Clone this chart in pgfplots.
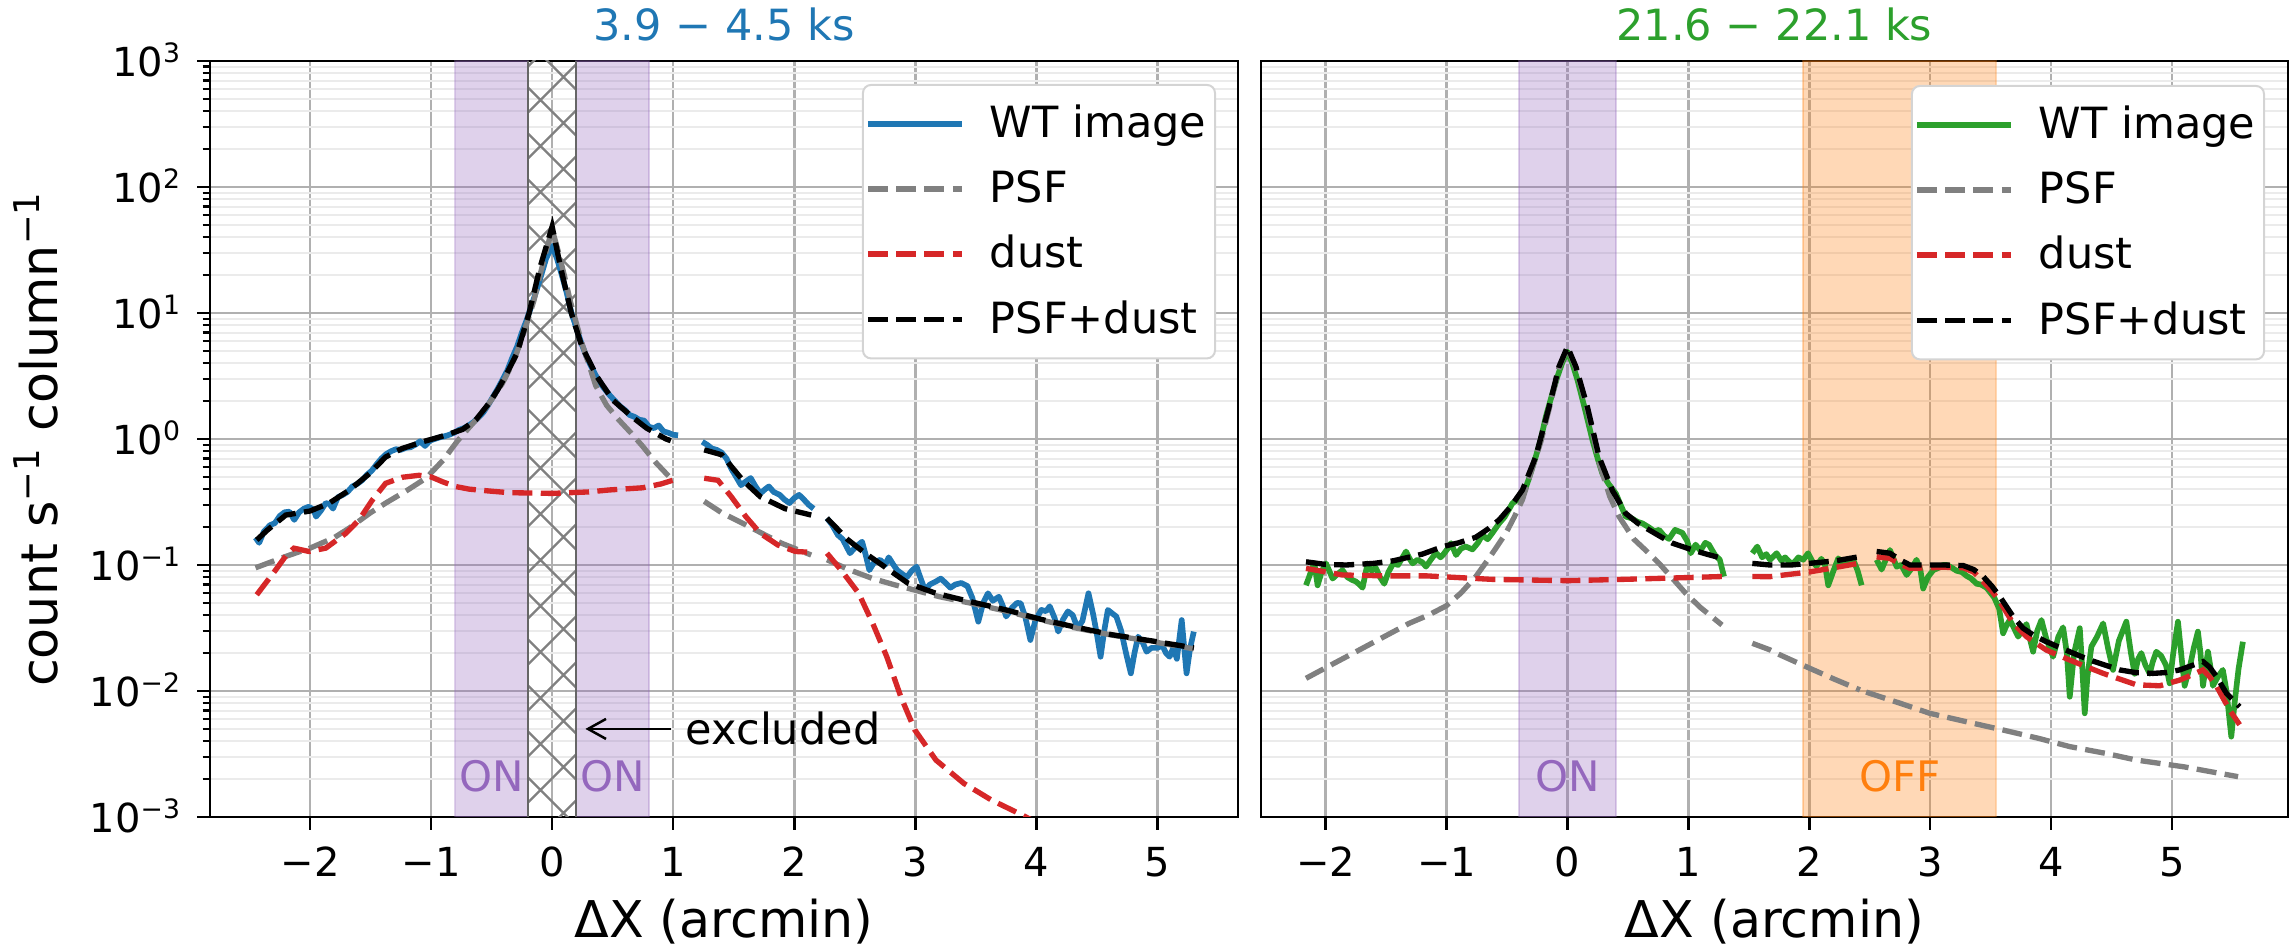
\documentclass[border=0pt]{standalone}
\usepackage{fontspec}
\setmainfont{DejaVu Sans}
\usepackage{pgfplots}
\pgfplotsset{compat=1.18}
\usetikzlibrary{patterns,arrows.meta}

\definecolor{tabblue}{HTML}{1F77B4}
\definecolor{tabgreen}{HTML}{2CA02C}
\definecolor{tabred}{HTML}{D62728}
\definecolor{tabpurple}{HTML}{9467BD}
\definecolor{taborange}{HTML}{FF7F0E}
\definecolor{psfgray}{HTML}{808080}
\definecolor{majgrid}{HTML}{B0B0B0}
\definecolor{mingrid}{HTML}{EBEBEB}
\definecolor{legedge}{HTML}{D4D4D4}

% wide diagonal cross-hatch for the excluded core
\pgfdeclarepatternformonly{widecross}{\pgfqpoint{-1pt}{-1pt}}{\pgfqpoint{14.8pt}{14.8pt}}{\pgfqpoint{13.8pt}{13.8pt}}{%
  \pgfsetlinewidth{0.7pt}%
  \pgfpathmoveto{\pgfqpoint{3.45pt}{0pt}}\pgfpathlineto{\pgfqpoint{13.8pt}{10.35pt}}%
  \pgfpathmoveto{\pgfqpoint{0pt}{10.35pt}}\pgfpathlineto{\pgfqpoint{3.45pt}{13.8pt}}%
  \pgfpathmoveto{\pgfqpoint{0pt}{3.45pt}}\pgfpathlineto{\pgfqpoint{3.45pt}{0pt}}%
  \pgfpathmoveto{\pgfqpoint{3.45pt}{13.8pt}}\pgfpathlineto{\pgfqpoint{13.8pt}{3.45pt}}%
  \pgfusepath{stroke}}

\pgfplotsset{legend image code/.code={\draw[#1] (0pt,0pt) -- (28.4pt,0pt);}}

\begin{document}
\begin{tikzpicture}
\useasboundingbox (0,0) rectangle (687pt,285.3pt);

% ---------------- early interval ----------------
\begin{axis}[
  at={(63pt,40.2pt)}, anchor=south west,
  scale only axis, width=308.4pt, height=226.8pt,
  xmin=-2.826, xmax=5.665,
  ymode=log, ymin=1e-3, ymax=1e3,
  unbounded coords=jump,
  xtick={-2,-1,0,1,2,3,4,5},
  xticklabels={−2,−1,0,1,2,3,4,5},
  ytick={1e-3,1e-2,1e-1,1,1e1,1e2,1e3},
  yticklabels={10\textsuperscript{−3},10\textsuperscript{−2},10\textsuperscript{−1},10\textsuperscript{0},10\textsuperscript{1},10\textsuperscript{2},10\textsuperscript{3}},
  minor ytick={2e-3,3e-3,4e-3,5e-3,6e-3,7e-3,8e-3,9e-3,
               2e-2,3e-2,4e-2,5e-2,6e-2,7e-2,8e-2,9e-2,
               0.2,0.3,0.4,0.5,0.6,0.7,0.8,0.9,
               2,3,4,5,6,7,8,9,
               20,30,40,50,60,70,80,90,
               200,300,400,500,600,700,800,900},
  xmajorgrids=true, ymajorgrids=true, yminorgrids=true,
  major grid style={draw=majgrid, line width=0.75pt},
  minor grid style={draw=mingrid, line width=0.6pt},
  axis line style={line width=0.8pt},
  tick align=outside,
  xtick pos=bottom, ytick pos=left,
  major tick length=3.8pt, minor tick length=2.2pt,
  tick style={black, line width=0.75pt},
  tick label style={font=\fontsize{12}{14}\selectfont},
  xticklabel style={anchor=base, inner sep=0pt, yshift=-14pt},
  yticklabel style={anchor=base east, inner sep=0pt, xshift=-4.5pt, yshift=-4.7pt},
  xlabel={ΔX (arcmin)},
  xlabel style={at={(axis description cs:0.5,-0.16)}, anchor=base, font=\fontsize{15.2}{18}\selectfont},
  ylabel={count s\textsuperscript{−1} column\textsuperscript{−1}},
  ylabel style={at={(axis description cs:-0.1488,0.5)}, anchor=base, font=\fontsize{15.2}{18}\selectfont},
  title={3.9 − 4.5 ks},
  title style={at={(0.5,1)}, anchor=base, yshift=0.2pt, text=tabblue, font=\fontsize{12.9}{15}\selectfont},
  legend cell align=left,
  legend style={at={(0.9786,0.9696)}, anchor=north east,
    draw=legedge, line width=0.6pt, rounded corners=2.4pt, fill=white,
    font=\fontsize{12.9}{15}\selectfont,
    inner xsep=0.6pt, inner ysep=4pt, row sep=4.35pt, column sep=5.4pt},
]
% source regions
\addplot[forget plot, fill=tabpurple, fill opacity=0.3, draw=tabpurple, draw opacity=0.3, line width=0.6pt]
  coordinates {(-0.8,1e-3) (-0.8,1e3) (-0.2,1e3) (-0.2,1e-3) (-0.8,1e-3)};
\addplot[forget plot, fill=tabpurple, fill opacity=0.3, draw=tabpurple, draw opacity=0.3, line width=0.6pt]
  coordinates {(0.2,1e-3) (0.2,1e3) (0.8,1e3) (0.8,1e-3) (0.2,1e-3)};
% excluded core
\addplot[forget plot, draw=none, pattern=widecross, pattern color=psfgray]
  coordinates {(-0.2,1e-3) (-0.2,1e3) (0.2,1e3) (0.2,1e-3) (-0.2,1e-3)};
\addplot[forget plot, draw=black!60, line width=0.6pt] coordinates {(-0.2,1e-3) (-0.2,1e3)};
\addplot[forget plot, draw=black!60, line width=0.6pt] coordinates {(0.2,1e-3) (0.2,1e3)};

% WT image profile
\addplot[tabblue, line width=1.7pt, line join=round] coordinates {
(-2.45,0.165) (-2.42,0.150) (-2.38,0.185) (-2.33,0.207) (-2.29,0.215) (-2.25,0.245)
(-2.21,0.262) (-2.17,0.265) (-2.13,0.228) (-2.09,0.262) (-2.05,0.280) (-2.01,0.29)
(-1.97,0.275) (-1.95,0.242) (-1.91,0.27) (-1.87,0.31) (-1.84,0.305) (-1.81,0.28)
(-1.77,0.345) (-1.73,0.36) (-1.69,0.38) (-1.65,0.42) (-1.61,0.44) (-1.57,0.47)
(-1.53,0.52) (-1.49,0.56) (-1.45,0.63) (-1.41,0.70) (-1.37,0.76) (-1.33,0.80)
(-1.29,0.83) (-1.25,0.82) (-1.21,0.85) (-1.17,0.86) (-1.13,0.90) (-1.09,0.96)
(-1.05,0.88) (-1.01,0.97) (-0.97,1.0) (-0.93,1.03) (-0.89,1.05) (-0.85,1.08)
(-0.81,1.12) (-0.77,1.18) (-0.73,1.22) (-0.69,1.28) (-0.65,1.36) (-0.61,1.48)
(-0.57,1.62) (-0.53,1.85) (-0.49,2.15) (-0.45,2.5) (-0.41,2.95) (-0.37,3.5)
(-0.33,4.4) (-0.29,5.4) (-0.25,7.0) (-0.21,8.8) (-0.17,11.5) (-0.13,15)
(-0.09,20) (-0.05,27) (0,34) (0.04,27) (0.08,20) (0.12,14.5) (0.16,10)
(0.20,7.6) (0.24,5.8) (0.28,4.6) (0.32,3.8) (0.36,3.2) (0.40,2.75) (0.44,2.45)
(0.48,2.2) (0.52,2.0) (0.56,1.82) (0.60,1.7) (0.64,1.55) (0.68,1.5) (0.72,1.42)
(0.76,1.4) (0.80,1.25) (0.84,1.22) (0.88,1.28) (0.92,1.15) (0.96,1.12) (1.00,1.08) (1.04,1.07)
(1.14,nan)
(1.24,0.95) (1.28,0.90) (1.32,0.84) (1.36,0.82) (1.40,0.78) (1.44,0.70) (1.48,0.58)
(1.52,0.50) (1.56,0.43) (1.60,0.46) (1.64,0.49) (1.68,0.42) (1.72,0.37) (1.76,0.40)
(1.79,0.42) (1.83,0.38) (1.88,0.36) (1.92,0.33) (1.96,0.31) (2.00,0.34) (2.04,0.36)
(2.08,0.33) (2.12,0.30) (2.16,0.28)
(2.21,nan)
(2.27,0.235) (2.31,0.21) (2.36,0.173) (2.40,0.16) (2.46,0.124) (2.51,0.14) (2.56,0.153)
(2.59,0.12) (2.62,0.091) (2.66,0.105) (2.71,0.11) (2.75,0.10) (2.78,0.115) (2.82,0.10)
(2.85,0.091) (2.89,0.085) (2.93,0.080) (2.97,0.09) (3.01,0.097) (3.04,0.08) (3.08,0.063)
(3.12,0.07) (3.17,0.074) (3.21,0.078) (3.25,0.072) (3.29,0.066) (3.33,0.070) (3.38,0.072)
(3.43,0.068) (3.47,0.055) (3.52,0.0355) (3.56,0.05) (3.60,0.0596) (3.64,0.052) (3.69,0.056)
(3.72,0.048) (3.75,0.039) (3.80,0.046) (3.84,0.050) (3.87,0.0497) (3.91,0.038) (3.95,0.0254)
(3.99,0.036) (4.04,0.044) (4.08,0.043) (4.11,0.047) (4.15,0.038) (4.18,0.0296) (4.22,0.037)
(4.26,0.0428) (4.30,0.040) (4.34,0.0315) (4.38,0.036) (4.43,0.0596) (4.47,0.040) (4.50,0.028)
(4.53,0.0187) (4.56,0.030) (4.59,0.044) (4.63,0.041) (4.66,0.039) (4.70,0.030) (4.74,0.020)
(4.78,0.0138) (4.81,0.020) (4.84,0.027) (4.88,0.024) (4.91,0.0205) (4.95,0.022) (5.00,0.022)
(5.04,0.023) (5.07,0.020) (5.10,0.0187) (5.13,0.022) (5.16,0.018) (5.20,0.0366) (5.24,0.0138)
(5.27,0.022) (5.30,0.0296)
};
\addlegendentry{WT image}

% PSF model
\addplot[psfgray, line width=1.6pt, dash pattern=on 6pt off 2.5pt] coordinates {
(-2.45,0.095) (-2.2,0.117) (-2.0,0.136) (-1.8,0.165) (-1.68,0.195) (-1.5,0.26)
(-1.375,0.31) (-1.2,0.39) (-1.04,0.49) (-0.9,0.68) (-0.78,0.97) (-0.68,1.25)
(-0.58,1.6) (-0.5,2.05) (-0.41,2.77) (-0.35,3.6) (-0.3,4.6) (-0.25,6.3) (-0.2,8.8)
(-0.15,12.6) (-0.1,20) (-0.05,31) (0,46) (0.05,31) (0.1,20) (0.15,12.4) (0.2,8.3)
(0.25,5.6) (0.3,4.0) (0.36,2.65) (0.45,1.85) (0.55,1.42) (0.65,1.12) (0.75,0.87)
(0.85,0.66) (0.995,0.47)
(1.14,nan)
(1.256,0.32) (1.4,0.26) (1.575,0.214) (1.75,0.175) (1.894,0.149) (2.14,0.12)
(2.21,nan)
(2.27,0.11) (2.45,0.092) (2.648,0.078) (2.82,0.07) (3.0,0.063) (3.2,0.056) (3.46,0.0497)
(3.75,0.043) (4.04,0.0366) (4.3,0.032) (4.62,0.0278) (4.95,0.0247) (5.3,0.0216)
};
\addlegendentry{PSF}

% dust scattering halo
\addplot[tabred, line width=1.6pt, dash pattern=on 6pt off 2.5pt] coordinates {
(-2.44,0.058) (-2.285,0.091) (-2.2,0.118) (-2.133,0.136) (-2.008,0.128) (-1.87,0.136)
(-1.705,0.178) (-1.595,0.228) (-1.485,0.328) (-1.375,0.445) (-1.237,0.497) (-1.1,0.515)
(-1.0,0.50) (-0.906,0.458) (-0.8,0.42) (-0.686,0.40) (-0.5,0.385) (-0.355,0.375) (0,0.37)
(0.3,0.38) (0.471,0.394) (0.747,0.41) (0.9,0.44) (0.995,0.47)
(1.14,nan)
(1.256,0.488) (1.37,0.47) (1.48,0.348) (1.60,0.242) (1.72,0.178) (1.865,0.144) (2.01,0.128) (2.14,0.126)
(2.21,nan)
(2.27,0.124) (2.387,0.091) (2.532,0.0596) (2.648,0.0344) (2.764,0.0187) (2.88,0.009)
(2.996,0.0049) (3.17,0.00283) (3.40,0.00185) (3.63,0.00136) (3.88,0.00104) (4.1,0.0008)
(4.5,0.0005) (5.0,0.0003) (5.3,0.00022)
};
\addlegendentry{dust}

% total model
\addplot[black, line width=1.6pt, dash pattern=on 6pt off 2.5pt] coordinates {
(-2.44,0.158) (-2.35,0.19) (-2.2,0.249) (-2.0,0.268) (-1.84,0.31) (-1.68,0.39) (-1.51,0.53)
(-1.375,0.72) (-1.24,0.84) (-1.07,0.95) (-0.91,1.05) (-0.74,1.19) (-0.63,1.42) (-0.52,1.93)
(-0.45,2.45) (-0.39,3.1) (-0.29,4.8) (-0.19,10) (-0.1,23) (0,48.5) (0.07,23) (0.158,10)
(0.246,5.4) (0.373,3.1) (0.5,2.04) (0.66,1.5) (0.78,1.22) (0.94,1.0) (0.98,0.97)
(1.14,nan)
(1.256,0.82) (1.40,0.75) (1.575,0.47) (1.72,0.348) (1.923,0.28) (2.14,0.249)
(2.21,nan)
(2.27,0.235) (2.445,0.158) (2.58,0.125) (2.706,0.103) (2.94,0.0716) (3.17,0.0596) (3.46,0.051)
(3.75,0.044) (4.04,0.037) (4.3,0.0325) (4.62,0.028) (4.95,0.025) (5.3,0.022)
};
\addlegendentry{PSF+dust}

\node[anchor=base, text=tabpurple, font=\fontsize{12.6}{14}\selectfont] at (axis cs:-0.5,1.6e-3) {ON};
\node[anchor=base, text=tabpurple, font=\fontsize{12.6}{14}\selectfont] at (axis cs:0.5,1.6e-3) {ON};
\draw[line width=0.75pt, -{Straight Barb[length=5.4pt,width=6pt]}] (axis cs:0.98,5e-3) -- (axis cs:0.275,5e-3);
\node[anchor=west, inner sep=0pt, font=\fontsize{12.9}{15}\selectfont] at (axis cs:1.1,5e-3) {excluded};
\end{axis}

% ---------------- late interval ----------------
\begin{axis}[
  at={(378.3pt,40.2pt)}, anchor=south west,
  scale only axis, width=308.1pt, height=226.8pt,
  xmin=-2.534, xmax=5.959,
  ymode=log, ymin=1e-3, ymax=1e3,
  unbounded coords=jump,
  xtick={-2,-1,0,1,2,3,4,5},
  xticklabels={−2,−1,0,1,2,3,4,5},
  ytick={1e-3,1e-2,1e-1,1,1e1,1e2,1e3},
  yticklabels={},
  minor ytick={2e-3,3e-3,4e-3,5e-3,6e-3,7e-3,8e-3,9e-3,
               2e-2,3e-2,4e-2,5e-2,6e-2,7e-2,8e-2,9e-2,
               0.2,0.3,0.4,0.5,0.6,0.7,0.8,0.9,
               2,3,4,5,6,7,8,9,
               20,30,40,50,60,70,80,90,
               200,300,400,500,600,700,800,900},
  xmajorgrids=true, ymajorgrids=true, yminorgrids=true,
  major grid style={draw=majgrid, line width=0.75pt},
  minor grid style={draw=mingrid, line width=0.6pt},
  axis line style={line width=0.8pt},
  tick align=outside,
  xtick pos=bottom, ytick pos=left,
  major tick length=3.8pt, minor tick length=0pt,
  tick style={black, line width=0.75pt},
  ytick style={draw=none},
  tick label style={font=\fontsize{12}{14}\selectfont},
  xticklabel style={anchor=base, inner sep=0pt, yshift=-14pt},
  xlabel={ΔX (arcmin)},
  xlabel style={at={(axis description cs:0.5,-0.16)}, anchor=base, font=\fontsize{15.2}{18}\selectfont},
  title={21.6 − 22.1 ks},
  title style={at={(0.5,1)}, anchor=base, yshift=0.2pt, text=tabgreen, font=\fontsize{12.9}{15}\selectfont},
  legend cell align=left,
  legend style={at={(0.9776,0.9683)}, anchor=north east,
    draw=legedge, line width=0.6pt, rounded corners=2.4pt, fill=white,
    font=\fontsize{12.9}{15}\selectfont,
    inner xsep=0.6pt, inner ysep=4pt, row sep=4.35pt, column sep=5.4pt},
]
\addplot[forget plot, fill=tabpurple, fill opacity=0.3, draw=tabpurple, draw opacity=0.3, line width=0.6pt]
  coordinates {(-0.4,1e-3) (-0.4,1e3) (0.4,1e3) (0.4,1e-3) (-0.4,1e-3)};
\addplot[forget plot, fill=taborange, fill opacity=0.3, draw=taborange, draw opacity=0.3, line width=0.6pt]
  coordinates {(1.95,1e-3) (1.95,1e3) (3.54,1e3) (3.54,1e-3) (1.95,1e-3)};

\addplot[tabgreen, line width=1.7pt, line join=round] coordinates {
(-2.162,0.069) (-2.135,0.081) (-2.11,0.095) (-2.093,0.103) (-2.066,0.069) (-2.03,0.09)
(-1.997,0.103) (-1.97,0.09) (-1.942,0.078) (-1.90,0.085) (-1.86,0.091) (-1.82,0.08)
(-1.78,0.076) (-1.75,0.074) (-1.72,0.07) (-1.694,0.066) (-1.653,0.103) (-1.62,0.09)
(-1.585,0.095) (-1.55,0.08) (-1.515,0.071) (-1.48,0.088) (-1.44,0.103) (-1.40,0.10)
(-1.335,0.128) (-1.30,0.11) (-1.28,0.103) (-1.24,0.11) (-1.2,0.105) (-1.17,0.097)
(-1.13,0.11) (-1.087,0.125) (-1.05,0.115) (-1.03,0.12) (-0.99,0.135) (-0.963,0.149)
(-0.921,0.12) (-0.88,0.135) (-0.84,0.14) (-0.785,0.133) (-0.74,0.15) (-0.703,0.173)
(-0.66,0.16) (-0.62,0.18) (-0.565,0.214) (-0.52,0.24) (-0.48,0.28) (-0.455,0.309)
(-0.41,0.33) (-0.372,0.348) (-0.32,0.48) (-0.262,0.724) (-0.22,1.0) (-0.179,1.50)
(-0.13,2.2) (-0.083,3.12) (-0.04,4.1) (0,4.93) (0.04,4.0) (0.083,2.94) (0.14,1.8)
(0.207,0.98) (0.25,0.7) (0.289,0.53) (0.34,0.44) (0.4,0.37) (0.44,0.3) (0.482,0.242)
(0.53,0.235) (0.58,0.22) (0.62,0.214) (0.67,0.2) (0.72,0.185) (0.758,0.19) (0.80,0.17)
(0.84,0.161) (0.89,0.19) (0.95,0.18) (0.99,0.155) (1.02,0.124) (1.06,0.145) (1.10,0.13)
(1.14,0.15) (1.17,0.145) (1.22,0.12) (1.26,0.11) (1.295,0.081)
(1.41,nan)
(1.529,0.124) (1.57,0.14) (1.61,0.115) (1.645,0.122) (1.675,0.11) (1.73,0.124) (1.77,0.108)
(1.80,0.115) (1.84,0.105) (1.868,0.103) (1.91,0.115) (1.95,0.11) (1.99,0.124) (2.03,0.105)
(2.06,0.098) (2.10,0.112) (2.13,0.1) (2.157,0.069) (2.2,0.09) (2.24,0.113) (2.28,0.1)
(2.32,0.108) (2.364,0.11) (2.40,0.09) (2.433,0.069)
(2.49,nan)
(2.557,0.11) (2.598,0.092) (2.667,0.1315) (2.70,0.11) (2.722,0.097) (2.76,0.1) (2.805,0.0833)
(2.85,0.095) (2.887,0.11) (2.92,0.09) (2.942,0.065) (2.98,0.08) (3.025,0.091) (3.07,0.095)
(3.107,0.1) (3.135,0.1) (3.18,0.095) (3.218,0.09) (3.26,0.088) (3.30,0.082) (3.34,0.078)
(3.383,0.071) (3.42,0.07) (3.466,0.066) (3.50,0.06) (3.53,0.055) (3.57,0.045) (3.603,0.0287)
(3.63,0.033) (3.658,0.0366) (3.69,0.032) (3.727,0.027) (3.76,0.03) (3.796,0.034) (3.82,0.027)
(3.851,0.0205) (3.885,0.03) (3.92,0.0366) (3.96,0.026) (4.016,0.0187) (4.06,0.027) (4.099,0.032)
(4.13,0.02) (4.154,0.009) (4.19,0.02) (4.237,0.0315) (4.258,0.015) (4.278,0.00665) (4.30,0.013)
(4.333,0.0225) (4.38,0.027) (4.43,0.0344) (4.47,0.022) (4.512,0.0147) (4.56,0.025) (4.622,0.0355)
(4.66,0.02) (4.691,0.0137) (4.72,0.018) (4.746,0.020) (4.78,0.016) (4.815,0.0137) (4.84,0.017)
(4.87,0.0205) (4.91,0.019) (4.95,0.016) (4.98,0.0115) (5.01,0.02) (5.049,0.0355) (5.08,0.018)
(5.104,0.011) (5.15,0.016) (5.18,0.022) (5.214,0.0296) (5.235,0.02) (5.256,0.011) (5.28,0.016)
(5.297,0.0205) (5.32,0.015) (5.338,0.011) (5.38,0.013) (5.42,0.0147) (5.45,0.01) (5.49,0.00434)
(5.517,0.008) (5.55,0.015) (5.586,0.0246)
};
\addlegendentry{WT image}

\addplot[psfgray, line width=1.6pt, dash pattern=on 6pt off 2.5pt] coordinates {
(-2.162,0.0126) (-1.95,0.0162) (-1.72,0.0212) (-1.5,0.0275) (-1.31,0.0344) (-1.15,0.04)
(-1.004,0.0473) (-0.88,0.06) (-0.758,0.0808) (-0.63,0.12) (-0.51,0.178) (-0.44,0.24)
(-0.372,0.33) (-0.3,0.55) (-0.22,0.95) (-0.152,1.72) (-0.07,3.65) (0,5.3) (0.07,3.65)
(0.165,1.7) (0.262,0.65) (0.35,0.35) (0.427,0.242) (0.55,0.16) (0.65,0.13) (0.758,0.103)
(0.87,0.078) (0.978,0.0596) (1.1,0.046) (1.278,0.0334)
(1.41,nan)
(1.529,0.0239) (1.675,0.0212) (1.75,0.0195) (2.0,0.0152) (2.2,0.0125) (2.419,0.0102)
(2.45,nan)
(2.47,0.0098) (2.75,0.0080) (2.997,0.00665) (3.3,0.0057) (3.603,0.0049) (3.9,0.0042)
(4.154,0.00362) (4.45,0.0032) (4.705,0.00283) (5.1,0.0025) (5.546,0.00209)
};
\addlegendentry{PSF}

\addplot[tabred, line width=1.6pt, dash pattern=on 6pt off 2.5pt] coordinates {
(-2.162,0.094) (-1.86,0.0833) (-1.5,0.082) (-1.17,0.082) (-0.62,0.0769) (0,0.0751)
(0.48,0.077) (0.9,0.079) (1.278,0.081)
(1.41,nan)
(1.529,0.081) (1.675,0.0808) (2.0,0.088) (2.2,0.095) (2.405,0.103)
(2.49,nan)
(2.557,0.116) (2.667,0.113) (2.75,0.102) (2.832,0.094) (3.0,0.095) (3.107,0.096) (3.273,0.095)
(3.36,0.088) (3.438,0.0737) (3.51,0.062) (3.576,0.0512) (3.686,0.0344) (3.796,0.027)
(3.961,0.0211) (4.154,0.0176) (4.43,0.0138) (4.705,0.0112) (4.898,0.011) (5.063,0.0122)
(5.17,0.0135) (5.256,0.0147) (5.31,0.013) (5.366,0.011) (5.476,0.00706) (5.559,0.0054)
};
\addlegendentry{dust}

\addplot[black, line width=1.6pt, dash pattern=on 6pt off 2.5pt] coordinates {
(-2.162,0.106) (-2.0,0.101) (-1.83,0.1) (-1.6,0.103) (-1.44,0.108) (-1.2,0.122) (-1.03,0.14)
(-0.9,0.15) (-0.758,0.166) (-0.65,0.195) (-0.565,0.228) (-0.47,0.29) (-0.372,0.394)
(-0.262,0.724) (-0.152,1.8) (-0.07,3.75) (0,5.4) (0.07,3.75) (0.165,1.8) (0.262,0.72)
(0.372,0.39) (0.482,0.257) (0.58,0.215) (0.675,0.19) (0.77,0.168) (0.868,0.149) (1.03,0.132)
(1.15,0.122) (1.278,0.113)
(1.41,nan)
(1.529,0.103) (1.675,0.1) (1.85,0.1) (2.0,0.103) (2.22,0.108) (2.405,0.116)
(2.49,nan)
(2.557,0.128) (2.667,0.124) (2.75,0.11) (2.832,0.1) (3.0,0.1) (3.107,0.1) (3.273,0.099)
(3.36,0.092) (3.438,0.081) (3.51,0.068) (3.576,0.056) (3.686,0.0389) (3.768,0.0315)
(3.86,0.0275) (3.961,0.0246) (4.154,0.0205) (4.32,0.0176) (4.567,0.0147) (4.7,0.014)
(4.843,0.0138) (4.95,0.014) (5.063,0.0147) (5.17,0.016) (5.256,0.0171) (5.31,0.0155)
(5.366,0.0131) (5.449,0.0096) (5.559,0.0075)
};
\addlegendentry{PSF+dust}

\node[anchor=base, text=tabpurple, font=\fontsize{12.6}{14}\selectfont] at (axis cs:0,1.6e-3) {ON};
\node[anchor=base, text=taborange, font=\fontsize{12.6}{14}\selectfont] at (axis cs:2.75,1.6e-3) {OFF};
\end{axis}
\end{tikzpicture}
\end{document}
